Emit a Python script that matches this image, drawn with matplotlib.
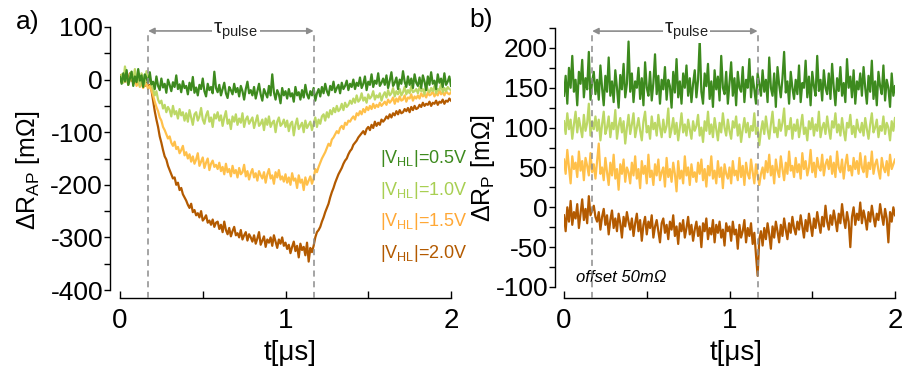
import numpy as np
import matplotlib
matplotlib.use('Agg')
import matplotlib.pyplot as plt
from matplotlib.ticker import MultipleLocator

plt.rcParams['font.family'] = ['Liberation Sans', 'DejaVu Sans']
plt.rcParams['mathtext.fontset'] = 'custom'
plt.rcParams['mathtext.rm'] = 'Liberation Sans'
plt.rcParams['mathtext.it'] = 'Liberation Sans:italic'
plt.rcParams['axes.unicode_minus'] = False

# time axis in us (10 ns sampling, 0 .. 2 us)
t = np.arange(201) * 0.01

pulse_start = 0.17
pulse_end = 1.17
voltages = ['0.5', '1.0', '1.5', '2.0']

# a) change of R_AP [mOhm]
ap_05 = [5, -8, 12, -3, 18, -10, 2, 15, -12, 6, -5, 20, -2, 8, -14, 10, 3, -6, 14, -9,
         -4, -18, 6, -12, -20, 2, -15, -8, -25, 0, -10, -22, -5, -14, 8, -18, -9, -24, -3, -16,
         -12, -28, -6, -20, 5, -25, -15, -30, -10, -18, 2, -22, -32, -8, -20, -14, -26, 15, -16, -24,
         -10, -30, -18, -6, -26, -35, -14, -20, -28, -8, -24, -16, -32, -12, -22, -38, -18, -4, -26, -20,
         -30, -14, -36, -22, -8, -28, -40, -18, -26, -34, -12, -30, 10, -24, -38, -20, -28, -45, -16, -30,
         -22, -36, -18, -32, -26, -42, -14, -30, -24, -38, -20, -34, -10, -28, -36, -22, -30, -16, -40, -26,
         -18, -32, -14, -26, -8, -22, -30, -12, -20, -4, -24, -16, -10, -26, -6, -18, -12, -2, -20, -8,
         -14, 0, -18, -6, -12, 4, -16, -8, 6, -20, -4, -10, 10, -14, -2, -8, 12, -12, -6, 2,
         -10, 8, -16, -2, 14, -12, -6, 4, -18, 0, -8, 16, -4, -14, 6, -10, 2, -16, 10, -6,
         -12, 4, -16, 8, -4, -20, 6, -10, 14, -8, -2, -18, 10, -6, 2, -14, 12, -10, -4, 6, -12]
ap_10 = [0, 10, -6, 25, 4, -10, 8, 15, -4, 20, -2, 6, -12, 12, 2, -8, 16, -4, 0, -10,
         -18, -30, -22, -38, -45, -40, -55, -48, -62, -52, -58, -70, -50, -66, -60, -74, -56, -68, -62, -78,
         -64, -80, -58, -72, -86, -66, -62, -78, -70, -54, -76, -84, -68, -60, -80, -72, -90, -66, -74, -62,
         -78, -68, -88, -72, -60, -84, -76, -94, -70, -80, -66, -86, -74, -82, -64, -90, -76, -70, -84, -78,
         -72, -92, -80, -68, -88, -84, -76, -96, -74, -86, -70, -90, -82, -78, -100, -80, -72, -88, -84, -76,
         -90, -78, -98, -84, -80, -106, -86, -74, -94, -88, -82, -100, -78, -92, -86, -80, -96, -84, -72, -90,
         -76, -84, -70, -66, -78, -62, -72, -58, -66, -54, -62, -50, -60, -56, -46, -58, -44, -52, -48, -40,
         -46, -36, -44, -30, -42, -38, -26, -40, -34, -44, -28, -36, -32, -22, -38, -30, -34, -26, -40, -30,
         -24, -34, -20, -30, -26, -16, -32, -22, -28, -18, -30, -24, -14, -28, -20, -26, -12, -24, -22, -18,
         -26, -14, -22, -18, -28, -10, -20, -24, -16, -22, -12, -26, -18, -20, -8, -24, -16, -22, -14, -18, -20]
ap_15 = [2, -6, 8, -2, 4, -10, 0, 6, -8, 2, -12, -4, -14, -6, -16, -10, -8, -18, -12, -20,
         -30, -42, -52, -60, -72, -78, -90, -96, -104, -112, -108, -120, -126, -118, -132, -128, -140, -134, -126, -144,
         -138, -150, -142, -156, -146, -160, -152, -140, -164, -156, -148, -168, -158, -150, -172, -160, -154, -166, -162, -170,
         -158, -174, -166, -180, -160, -176, -170, -184, -164, -178, -172, -186, -168, -180, -176, -162, -184, -174, -190, -178,
         -170, -186, -178, -192, -174, -182, -188, -176, -196, -180, -170, -188, -182, -198, -176, -186, -172, -190, -184, -194,
         -180, -196, -186, -200, -178, -192, -188, -206, -182, -196, -190, -210, -186, -200, -192, -184, -198, -188, -170, -176,
         -166, -158, -150, -144, -138, -130, -122, -126, -114, -110, -104, -98, -102, -92, -88, -94, -82, -86, -78, -80,
         -74, -70, -76, -64, -68, -60, -66, -56, -62, -52, -58, -50, -56, -46, -54, -48, -52, -44, -50, -46,
         -42, -48, -38, -44, -40, -34, -46, -36, -42, -32, -40, -38, -30, -42, -34, -36, -28, -40, -32, -36,
         -30, -36, -26, -32, -28, -34, -24, -30, -28, -22, -32, -26, -30, -20, -28, -24, -30, -22, -26, -28, -24]
ap_20 = [8, 2, 10, -4, 6, 0, 12, -2, 4, -6, 2, -8, 0, -10, -4, -12, -6, -14, -10, -20,
         -40, -60, -76, -90, -108, -120, -134, -146, -152, -164, -172, -180, -188, -186, -200, -196, -210, -206, -218, -224,
         -230, -238, -244, -236, -252, -248, -258, -254, -262, -250, -268, -264, -258, -272, -268, -276, -266, -280, -272, -270,
         -284, -276, -290, -270, -286, -294, -282, -298, -288, -280, -296, -292, -300, -286, -304, -296, -290, -306, -294, -300,
         -308, -296, -312, -302, -290, -314, -306, -298, -318, -304, -310, -300, -316, -296, -308, -320, -304, -312, -300, -316,
         -310, -322, -314, -330, -318, -308, -326, -316, -338, -312, -324, -318, -334, -310, -346, -320, -328, -316, -300, -290,
         -286, -280, -270, -262, -252, -244, -236, -224, -214, -206, -196, -188, -180, -174, -168, -160, -154, -150, -142, -136,
         -132, -124, -120, -116, -110, -106, -102, -98, -104, -94, -90, -96, -86, -92, -80, -88, -82, -86, -76, -80,
         -76, -70, -74, -66, -72, -64, -68, -60, -66, -58, -64, -62, -56, -60, -54, -62, -52, -58, -50, -56,
         -54, -48, -52, -44, -50, -46, -48, -42, -50, -44, -46, -40, -48, -42, -44, -38, -46, -40, -42, -36, -40]

# b) change of R_P [mOhm], traces offset by 50 mOhm
p_05 = [140, 165, 130, 175, 150, 190, 145, 160, 128, 170, 155, 185, 138, 162, 148, 195, 135, 158, 170, 142,
        160, 135, 178, 150, 128, 165, 145, 188, 140, 158, 132, 172, 150, 125, 166, 148, 180, 138, 155, 208,
        145, 168, 132, 158, 150, 175, 136, 162, 128, 182, 150, 140, 170, 134, 156, 192, 142, 165, 130, 160,
        148, 176, 135, 160, 152, 125, 170, 144, 186, 138, 158, 130, 168, 150, 178, 140, 162, 132, 155, 172,
        138, 160, 210, 145, 130, 168, 152, 180, 136, 158, 126, 172, 148, 164, 134, 190, 150, 142, 170, 130,
        156, 182, 140, 162, 128, 170, 150, 145, 176, 132, 160, 150, 186, 138, 164, 148, 130, 168, 155, 140,
        172, 145, 160, 132, 188, 150, 140, 168, 126, 176, 154, 138, 162, 195, 144, 158, 130, 170, 150, 136,
        160, 142, 178, 132, 156, 150, 184, 138, 164, 128, 170, 152, 140, 190, 146, 160, 134, 172, 150, 142,
        168, 136, 180, 150, 128, 162, 146, 176, 140, 156, 132, 186, 150, 164, 138, 172, 130, 158, 148, 168,
        140, 176, 150, 130, 165, 145, 184, 136, 158, 128, 170, 152, 142, 178, 134, 160, 150, 126, 168, 140, 152]
p_10 = [108, 92, 118, 98, 110, 86, 104, 120, 94, 112, 100, 88, 116, 96, 106, 130, 90, 108, 98, 114,
        96, 110, 84, 104, 120, 92, 100, 114, 88, 106, 98, 122, 86, 102, 112, 94, 108, 80, 100, 116,
        92, 104, 118, 88, 100, 112, 96, 84, 108, 120, 94, 102, 86, 114, 98, 106, 90, 116, 100, 88,
        110, 94, 102, 124, 88, 98, 112, 92, 106, 84, 100, 118, 94, 104, 90, 110, 98, 86, 108, 96,
        102, 116, 90, 100, 82, 108, 96, 120, 92, 104, 88, 112, 98, 84, 106, 94, 118, 100, 90, 110,
        96, 86, 108, 100, 114, 90, 104, 82, 98, 112, 94, 106, 88, 102, 96, 118, 92, 100, 78, 96,
        108, 92, 114, 98, 86, 104, 120, 94, 100, 88, 110, 96, 106, 124, 90, 102, 98, 112, 86, 104,
        96, 110, 88, 102, 116, 92, 100, 84, 108, 98, 112, 90, 104, 96, 120, 88, 100, 106, 92, 114,
        98, 86, 108, 100, 118, 94, 104, 90, 112, 96, 84, 106, 100, 116, 92, 102, 88, 110, 98, 94,
        106, 90, 112, 98, 86, 104, 118, 94, 100, 110, 88, 102, 96, 114, 92, 106, 100, 84, 108, 96, 112]
p_15 = [60, 42, 72, 50, 30, 64, 48, 56, 38, 70, 46, 58, 34, 62, 52, 40, 68, 44, 54, 36,
        58, 80, 42, 50, 34, 62, 44, 28, 56, 40, 66, 36, 48, 22, 54, 42, 60, 32, 50, 44,
        30, 56, 40, 64, 36, 48, 24, 58, 42, 52, 30, 66, 38, 46, 28, 54, 40, 60, 34, 44,
        50, 26, 62, 38, 48, 32, 56, 42, 20, 58, 36, 46, 30, 64, 40, 50, 28, 54, 38, 44,
        32, 56, 42, 60, 34, 48, 26, 52, 40, 64, 36, 46, 30, 58, 38, 50, 24, 54, 42, 36,
        50, 30, 58, 40, 46, 34, 62, 38, 52, 28, 56, 42, 36, 60, 44, 30, 54, 40, 28, 42,
        50, 36, 58, 44, 66, 40, 52, 30, 60, 46, 38, 64, 48, 34, 56, 42, 70, 46, 52, 38,
        62, 44, 54, 36, 68, 48, 58, 40, 50, 72, 44, 56, 38, 62, 50, 46, 66, 40, 54, 60,
        48, 64, 42, 56, 38, 70, 50, 44, 60, 36, 54, 66, 46, 52, 40, 62, 48, 58, 42, 68,
        50, 44, 64, 38, 56, 48, 70, 42, 54, 60, 46, 36, 62, 50, 44, 58, 40, 66, 48, 54, 60]
p_20 = [-10, -30, 0, -18, 8, -22, -6, -14, 4, -26, -8, 10, -16, -2, -20, 14, -10, -4, 2, -12,
        -18, -6, -28, -12, -2, -22, -10, -34, -16, -4, -26, -14, -30, -8, -20, -38, -12, -24, -6, -18,
        -28, -14, -36, -20, -8, -30, -16, -42, -22, -12, -34, -18, -26, -10, -38, -24, -16, -30, -44, -20,
        -14, -32, -22, -40, -18, -28, -10, -36, -24, -46, -20, -30, -16, -38, -26, -12, -34, -22, -42, -28,
        -18, -36, -24, -50, -20, -30, -14, -40, -26, -34, -16, -44, -22, -32, -18, -38, -28, -48, -20, -30,
        -24, -42, -18, -34, -28, -52, -22, -38, -30, -16, -44, -26, -36, -20, -46, -32, -60, -86, -40, -30,
        -48, -26, -40, -20, -34, -52, -24, -38, -18, -30, -44, -22, -36, -14, -28, -40, -20, -32, -12, -26,
        -34, -18, -28, -10, -24, -38, -16, -30, -8, -22, -36, -14, -26, -6, -20, -32, -12, -24, 2, -18,
        -28, -10, -22, -4, -16, -30, -8, -20, 4, -14, -26, -6, -18, -50, -12, 0, -22, -8, -16, 6,
        -20, -4, -14, -28, -6, -18, 2, -12, -24, -8, -16, 4, -10, -22, -2, -14, -44, -6, -18, 0, -10]

line_colors = ['#3d8a1e', '#bcd865', '#ffc04a', '#b35a00']
text_colors = ['#3d8a1e', '#a8cf52', '#ffa836', '#b35a00']
dash_color = '#8c8c8c'

fig = plt.figure(figsize=(9.02, 3.76), dpi=100)
W, H = 902.0, 376.0

# axes boxes placed in pixels
ax_a = fig.add_axes([120 / W, 1 - 290 / H, 331 / W, 263 / H])
ax_b = fig.add_axes([564 / W, 1 - 287 / H, 331 / W, 259 / H])


def style_axis(ax, ylim, major, minor, off_left, off_bottom):
    ax.set_xlim(0, 2)
    ax.set_ylim(*ylim)
    for s in ['top', 'right']:
        ax.spines[s].set_visible(False)
    # detached spines (offset given in pixels)
    ax.spines['left'].set_position(('outward', off_left * 0.72))
    ax.spines['bottom'].set_position(('outward', off_bottom * 0.72))
    for s in ['left', 'bottom']:
        ax.spines[s].set_linewidth(1.0)
    ax.xaxis.set_major_locator(MultipleLocator(1))
    ax.xaxis.set_minor_locator(MultipleLocator(0.5))
    ax.yaxis.set_major_locator(MultipleLocator(major))
    ax.yaxis.set_minor_locator(MultipleLocator(minor))
    ax.tick_params(axis='x', which='both', direction='in', length=5, width=1.0, labelsize=20, pad=7)
    ax.tick_params(axis='y', which='both', direction='out', length=4, width=1.0, labelsize=19, pad=1)
    ax.patch.set_visible(False)


def pulse_marks(ax, top, bottom, text_x):
    tr = ax.get_xaxis_transform()
    for x in [pulse_start, pulse_end]:
        ax.plot([x, x], [bottom, top], transform=tr, color=dash_color, lw=1.1,
                linestyle=(0, (4, 3)), clip_on=False, zorder=5)
    ax.annotate('', xy=(pulse_end, top), xytext=(pulse_start, top), xycoords=tr, textcoords=tr,
                arrowprops=dict(arrowstyle='<|-|>', color=dash_color, lw=1.2, mutation_scale=9,
                                shrinkA=0, shrinkB=0), annotation_clip=False)
    ax.text(text_x, top, '\u03c4$_{\\mathregular{pulse}}$', transform=tr, ha='center', va='center',
            fontsize=15, color='#222222', zorder=6,
            bbox=dict(facecolor='white', edgecolor='none', pad=1))


# panel a)
style_axis(ax_a, (-400, 100), 100, 50, 10, 8)
for y, c in reversed(list(zip([ap_05, ap_10, ap_15, ap_20], line_colors))):
    ax_a.plot(t, y, color=c, lw=1.6)
pulse_marks(ax_a, 0.985, -0.03, 0.70)
for i, (v, c) in enumerate(zip(voltages, text_colors)):
    ax_a.text(1.57, -150 - 60 * i, '|V$_{\\mathregular{HL}}$|=' + v + 'V', color=c,
              fontsize=13, ha='left', va='center')

# panel b)
style_axis(ax_b, (-100, 225), 50, 25, 9, 11)
for y, c in reversed(list(zip([p_05, p_10, p_15, p_20], line_colors))):
    ax_b.plot(t, y, color=c, lw=1.6)
pulse_marks(ax_b, 0.988, -0.042, 0.74)
ax_b.text(0.07, -88, 'offset 50m\u03a9', fontsize=12, style='italic', ha='left', va='center')

# labels
fig.text(28 / W, 1 - 22 / H, 'a)', fontsize=19, ha='center', va='center')
fig.text(481 / W, 1 - 20 / H, 'b)', fontsize=19, ha='center', va='center')
fig.text(28 / W, 1 - 170 / H, '\u0394R$_{\\mathregular{AP}}$ [m\u03a9]', fontsize=18,
         rotation=90, ha='center', va='center')
fig.text(483 / W, 1 - 168 / H, '\u0394R$_{\\mathregular{P}}$ [m\u03a9]', fontsize=18,
         rotation=90, ha='center', va='center')
fig.text(290 / W, 1 - 353 / H, 't[\u03bcs]', fontsize=20, ha='center', va='center')
fig.text(736 / W, 1 - 353 / H, 't[\u03bcs]', fontsize=20, ha='center', va='center')

fig.savefig('out.png', dpi=100)
